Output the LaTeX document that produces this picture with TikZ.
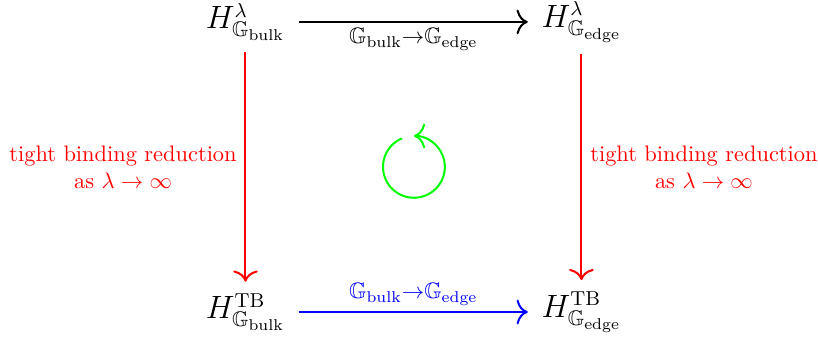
\documentclass[tikz,border=0pt]{standalone}
\usepackage{amssymb}
\usetikzlibrary{arrows.meta}
\tikzset{
  hnode/.style={font=\fontsize{13.5}{16}\selectfont, inner xsep=6pt, inner ysep=5pt},
  arr/.style={line width=0.9pt, -{Computer Modern Rightarrow[length=5pt,width=11pt]}},
  redlbl/.style={font=\normalsize, align=center, text=red, inner sep=3.5pt},
  elbl/.style={inner sep=2.5pt}
}
\newcommand{\gbelabel}{$\mathbb{G}_{\mathrm{bulk}}{\to}\mathbb{G}_{\mathrm{edge}}$}
\begin{document}
\begin{tikzpicture}[x=1pt,y=1pt]
\useasboundingbox (0,0) rectangle (365.2,151.3);
\node[hnode] (A) at (109.6,141.5) {$H^{\lambda}_{\mathbb{G}_{\mathrm{bulk}}}$};
\node[hnode] (B) at (259.6,141.5) {$H^{\lambda}_{\mathbb{G}_{\mathrm{edge}}}$};
\node[hnode] (C) at (109.6,12) {$H^{\mathrm{TB}}_{\mathbb{G}_{\mathrm{bulk}}}$};
\node[hnode] (D) at (259.6,12) {$H^{\mathrm{TB}}_{\mathbb{G}_{\mathrm{edge}}}$};
\draw[arr] (A) -- (B) node[midway, below, elbl] {\gbelabel};
\draw[arr, blue] (C) -- (D) node[midway, above, elbl] {\gbelabel};
\draw[arr, red] (A) -- (C) node[midway, left, redlbl] {tight binding reduction\\as $\lambda\to\infty$};
\draw[arr, red] (B) -- (D) node[midway, right, redlbl] {tight binding reduction\\as $\lambda\to\infty$};
\coordinate (O) at (184.8,76.8);
\draw[arr, green] (O) ++(113:13.8) arc[start angle=113, end angle=450, radius=13.8];
\end{tikzpicture}
\end{document}
